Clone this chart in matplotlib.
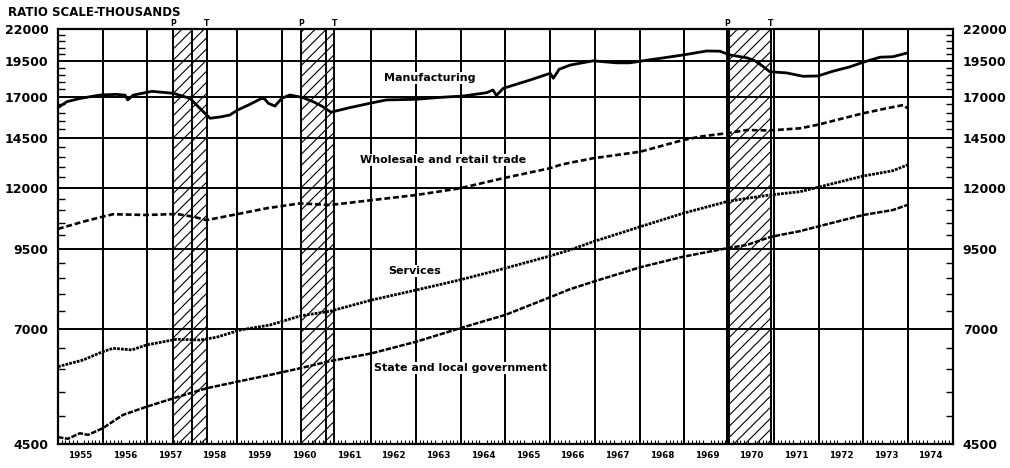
import matplotlib
matplotlib.use("Agg")
import matplotlib.pyplot as plt
import matplotlib.transforms as mtransforms
from matplotlib.ticker import FixedLocator, NullFormatter

# axis setup
years = list(range(1955, 1976))
year_labels = [str(y) for y in range(1955, 1975)]
y_ticks = [4500, 7000, 9500, 12000, 14500, 17000, 19500, 22000]
y_minor = list(range(4500, 22001, 500))

# recession shading: (peak, trough) in fractional years
recessions = [(1957.58, 1958.33), (1960.44, 1961.17), (1969.96, 1970.93)]

# series (fractional year, thousands of employees)
mfg_x = [1955.0, 1955.2, 1955.5, 1955.95, 1956.3, 1956.5, 1956.56, 1956.68, 1957.1,
         1957.58, 1957.95, 1958.17, 1958.4, 1958.66, 1958.84, 1959.02, 1959.29,
         1959.55, 1959.62, 1959.7, 1959.85, 1960.0, 1960.18, 1960.45, 1960.7,
         1960.92, 1961.1, 1961.52, 1961.97, 1962.34, 1963.0, 1963.54, 1964.05,
         1964.58, 1964.72, 1964.8, 1964.95, 1965.55, 1966.0, 1966.07, 1966.2,
         1966.45, 1966.96, 1967.48, 1967.78, 1968.07, 1968.97, 1969.5, 1969.79,
         1970.02, 1970.4, 1970.58, 1970.75, 1970.91, 1971.28, 1971.65, 1971.98,
         1972.32, 1972.7, 1972.99, 1973.37, 1973.66, 1973.95]
mfg_y = [16300, 16680, 16890, 17110, 17150, 17100, 16790, 17100, 17350,
         17220, 16890, 16260, 15650, 15745, 15850, 16160, 16510,
         16890, 16850, 16575, 16400, 16890, 17110, 16955, 16680,
         16360, 16020, 16300, 16575, 16790, 16830, 16955, 17040,
         17260, 17440, 17080, 17550, 18120, 18590, 18240, 18880,
         19190, 19500, 19350, 19350, 19500, 19940, 20250, 20230,
         19940, 19720, 19500, 19100, 18700, 18620, 18380, 18400,
         18740, 19060, 19390, 19770, 19810, 20070]

trade_x = [1955.0, 1955.56, 1956.0, 1956.23, 1956.98, 1957.65, 1958.02, 1958.32,
           1958.91, 1959.66, 1960.41, 1961.08, 1962.05, 1963.01, 1963.98, 1964.94,
           1965.99, 1966.22, 1966.44, 1966.96, 1968.01, 1968.97, 1969.35, 1969.94,
           1970.39, 1970.9, 1971.58, 1971.95, 1972.99, 1973.52, 1973.9, 1973.98]
trade_y = [10250, 10535, 10740, 10840, 10810, 10850, 10740, 10600,
           10810, 11090, 11300, 11230, 11450, 11670, 11970, 12440,
           12925, 13090, 13200, 13430, 13770, 14400, 14590, 14780,
           14960, 14940, 15060, 15250, 15950, 16260, 16470, 16260]

serv_x = [1955.0, 1955.56, 1956.0, 1956.23, 1956.65, 1956.98, 1957.65, 1958.17,
          1958.54, 1959.07, 1959.74, 1960.41, 1961.08, 1962.01, 1963.01, 1963.98,
          1964.99, 1965.99, 1966.44, 1966.96, 1968.01, 1968.97, 1969.94, 1970.39,
          1970.9, 1971.58, 1972.03, 1972.99, 1973.66, 1973.98]
serv_y = [6050, 6206, 6406, 6490, 6450, 6573, 6719, 6700,
          6770, 6960, 7095, 7344, 7480, 7807, 8113, 8431,
          8815, 9238, 9454, 9760, 10334, 10880, 11374, 11520,
          11667, 11816, 12043, 12546, 12806, 13090]

gov_x = [1955.0, 1955.22, 1955.49, 1955.67, 1956.0, 1956.45, 1956.98, 1957.65,
         1958.32, 1958.91, 1959.74, 1960.41, 1961.08, 1962.01, 1963.01, 1963.98,
         1964.99, 1965.99, 1966.44, 1966.96, 1968.01, 1968.97, 1969.94, 1970.39,
         1970.9, 1971.13, 1971.58, 1972.03, 1972.99, 1973.66, 1973.98]
gov_y = [4620, 4590, 4689, 4660, 4779, 5029, 5190, 5380,
         5570, 5691, 5862, 6013, 6180, 6366, 6657, 7007,
         7372, 7887, 8136, 8373, 8849, 9214, 9515, 9636,
         9925, 10012, 10160, 10364, 10808, 11018, 11231]

plt.rcParams["hatch.linewidth"] = 0.8
plt.rcParams["font.family"] = ["DejaVu Sans"]

fig = plt.figure(figsize=(10.1, 4.68), dpi=100)
ax = fig.add_axes([0.0574, 0.0513, 0.8861, 0.8861])
ax.set_yscale("log")
ax.set_xlim(years[0], years[-1])
ax.set_ylim(y_ticks[0], y_ticks[-1])

# recession bars
top = mtransforms.blended_transform_factory(ax.transData, ax.transAxes)
for p, t in recessions:
    ax.axvspan(p, t, facecolor="white", hatch="///", edgecolor="black",
               linewidth=1.4, zorder=1)
    ax.text(p, 1.004, "P", transform=top, ha="center", va="bottom",
            fontsize=5.5, fontweight="bold")
    ax.text(t, 1.004, "T", transform=top, ha="center", va="bottom",
            fontsize=5.5, fontweight="bold")

# grid
for v in y_ticks[1:-1]:
    ax.axhline(v, color="black", lw=1.4, zorder=2)
for yr in years[1:-1]:
    ax.axvline(yr, color="black", lw=1.4, zorder=2)

# series
ax.plot(mfg_x, mfg_y, color="black", lw=2.0, zorder=3)
ax.plot(trade_x, trade_y, color="black", lw=1.9, dashes=(2.2, 1.1), zorder=3)
ax.plot(serv_x, serv_y, color="black", lw=2.0, dashes=(1.0, 0.4), zorder=3)
ax.plot(gov_x, gov_y, color="black", lw=1.8, dashes=(2.2, 0.6), zorder=3)

box = dict(facecolor="white", edgecolor="none", pad=1.0)
lab = dict(fontsize=8, fontweight="bold", ha="center", va="center", zorder=4, bbox=box)
ax.text(1963.3, 18260, "Manufacturing", **lab)
ax.text(1963.6, 13340, "Wholesale and retail trade", **lab)
ax.text(1962.96, 8725, "Services", **lab)
ax.text(1964.0, 6020, "State and local government", **lab)

# ticks
ax.set_xticks([y + 0.5 for y in years[:-1]], year_labels)
ax.xaxis.set_minor_locator(FixedLocator([y + m / 12 for y in years[:-1] for m in range(1, 12)]))
ax.tick_params(axis="x", which="major", length=0, pad=5, labelsize=6.3)
ax.tick_params(axis="x", which="minor", direction="in", length=3, width=0.8, top=False)
for lbl in ax.get_xticklabels():
    lbl.set_fontweight("bold")

ax.yaxis.set_major_locator(FixedLocator(y_ticks))
ax.set_yticklabels([str(v) for v in y_ticks])
ax.yaxis.set_minor_locator(FixedLocator(y_minor))
ax.yaxis.set_minor_formatter(NullFormatter())
ax.tick_params(axis="y", which="major", length=0, pad=7, labelsize=9,
               left=True, right=True, labelleft=True, labelright=True)
ax.tick_params(axis="y", which="minor", direction="in", length=5, width=1.0,
               left=True, right=True)
for t in ax.yaxis.get_major_ticks():
    t.label1.set_fontweight("bold")
    t.label2.set_fontweight("bold")

for s in ax.spines.values():
    s.set_linewidth(1.6)

fig.text(8 / 1010, 1 - 13 / 468, "RATIO SCALE-THOUSANDS", fontsize=8.5,
         fontweight="bold", ha="left", va="center")

fig.savefig("out.png", dpi=100, facecolor="white")
